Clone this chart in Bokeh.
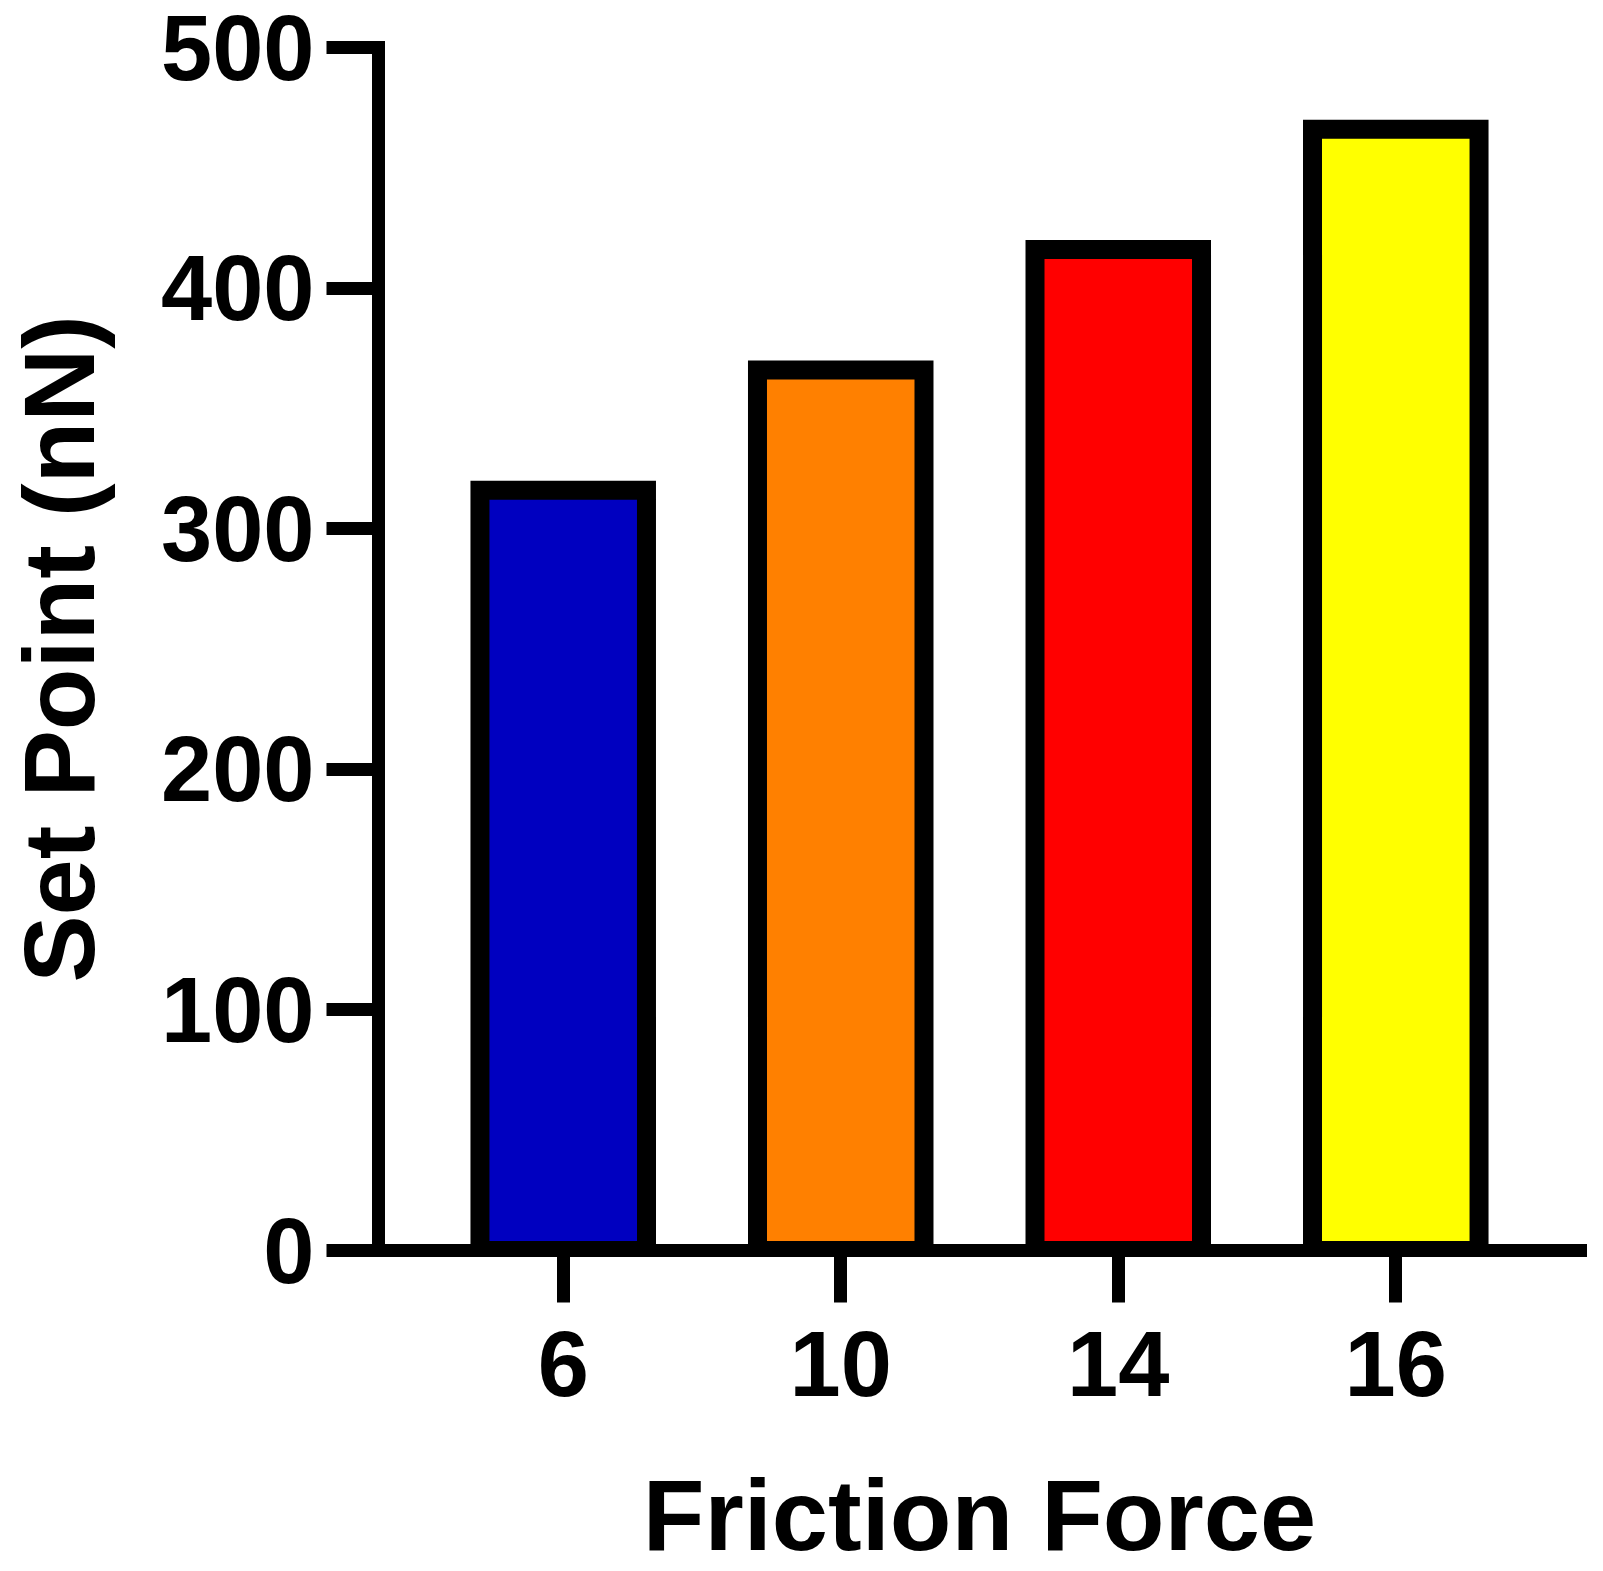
from bokeh.plotting import figure
from bokeh.models import Range1d, FixedTicker, ColumnDataSource, FactorRange
from bokeh.embed import file_html
from bokeh.resources import INLINE

categories = ["6", "10", "14", "16"]
set_point = [316, 366, 416, 466]
bar_colors = ["#0000C0", "#FF8000", "#FF0000", "#FFFF00"]
y_ticks = [0, 100, 200, 300, 400, 500]
x_title = "Friction Force"
y_title = "Set Point (nN)"

src = ColumnDataSource(dict(x=categories, top=set_point, color=bar_colors))

FONT = "Liberation Sans"

p = figure(frame_width=1202, frame_height=1203,
           x_range=FactorRange(*categories, range_padding=0.1656,
                               range_padding_units="absolute"),
           y_range=Range1d(0, 500),
           output_backend="svg", toolbar_location=None,
           x_axis_label=x_title, y_axis_label=y_title,
           min_border_left=378, min_border_right=15,
           min_border_top=47, min_border_bottom=280)

p.vbar(x="x", top="top", bottom=0, width=0.6, source=src,
       fill_color="color", line_color="black", line_width=19,
       line_join="miter")

p.xgrid.visible = False
p.ygrid.visible = False
p.outline_line_color = None
p.background_fill_color = "white"
p.border_fill_color = "white"

p.yaxis.ticker = FixedTicker(ticks=y_ticks)

for ax in (p.xaxis[0], p.yaxis[0]):
    ax.axis_line_width = 13
    ax.axis_line_color = "black"
    ax.axis_line_cap = "square"
    ax.major_tick_line_width = 13
    ax.major_tick_line_color = "black"
    ax.major_tick_in = 0
    ax.major_tick_out = 52
    ax.minor_tick_line_color = None
    ax.major_label_text_font = FONT
    ax.major_label_text_font_style = "bold"
    ax.major_label_text_font_size = "92px"
    ax.major_label_text_color = "black"
    ax.axis_label_text_font = FONT
    ax.axis_label_text_font_style = "bold"
    ax.axis_label_text_font_size = "101px"
    ax.axis_label_text_color = "black"
p.xaxis.major_label_standoff = 29
p.yaxis.major_label_standoff = 12
p.xaxis.axis_label_standoff = 60
p.yaxis.axis_label_standoff = 43

open("out.html", "w").write(file_html(p, INLINE))
